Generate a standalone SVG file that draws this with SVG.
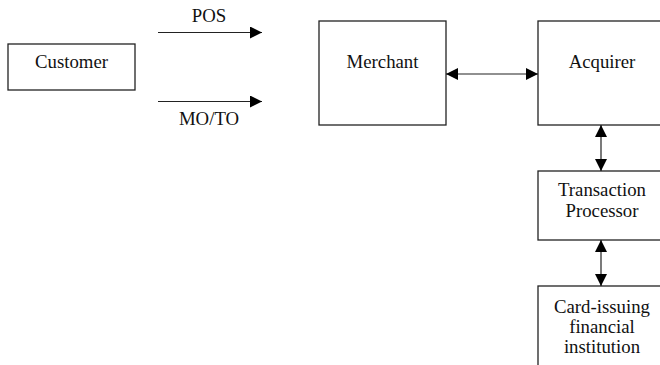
<svg xmlns="http://www.w3.org/2000/svg" width="660" height="365" viewBox="0 0 660 365">
  <style>
    .box { fill: #fff; stroke: #222; stroke-width: 1.3; }
    .lbl { font-family: "Liberation Serif", "Times New Roman", serif; font-size: 18.8px; fill: #111; text-anchor: middle; }
    .wire { stroke: #222; stroke-width: 1.2; fill: none; }
  </style>
  <defs>
    <marker id="head" viewBox="0 0 12 12" refX="12" refY="6" markerWidth="12" markerHeight="12" markerUnits="userSpaceOnUse" orient="auto-start-reverse">
      <path d="M0,0 L12,6 L0,12 Z" fill="#000"/>
    </marker>
  </defs>
  <rect width="660" height="365" fill="#fff"/>

  <g id="customer">
    <rect class="box" x="8" y="44" width="127" height="46"/>
    <text class="lbl" x="71.5" y="68">Customer</text>
  </g>
  <g id="merchant">
    <rect class="box" x="319" y="21" width="127" height="104"/>
    <text class="lbl" x="382.5" y="67.5">Merchant</text>
  </g>
  <g id="acquirer">
    <rect class="box" x="538" y="21" width="128" height="104"/>
    <text class="lbl" x="602" y="67.5">Acquirer</text>
  </g>
  <g id="transaction-processor">
    <rect class="box" x="538" y="171" width="128" height="69"/>
    <text class="lbl" x="602" y="196">Transaction</text>
    <text class="lbl" x="602" y="217">Processor</text>
  </g>
  <g id="card-issuer">
    <rect class="box" x="538" y="286" width="128" height="90"/>
    <text class="lbl" x="602" y="312.5">Card-issuing</text>
    <text class="lbl" x="602" y="332.5">financial</text>
    <text class="lbl" x="602" y="352.5">institution</text>
  </g>

  <g id="connectors">
    <line class="wire" x1="158" y1="32.5" x2="262" y2="32.5" marker-end="url(#head)"/>
    <text class="lbl" x="209" y="22.3">POS</text>
    <line class="wire" x1="158" y1="101.5" x2="262" y2="101.5" marker-end="url(#head)"/>
    <text class="lbl" x="209" y="125">MO/TO</text>
    <line class="wire" x1="446" y1="74" x2="538" y2="74" marker-start="url(#head)" marker-end="url(#head)"/>
    <line class="wire" x1="601" y1="125" x2="601" y2="171" marker-start="url(#head)" marker-end="url(#head)"/>
    <line class="wire" x1="601" y1="240" x2="601" y2="286" marker-start="url(#head)" marker-end="url(#head)"/>
  </g>
</svg>
